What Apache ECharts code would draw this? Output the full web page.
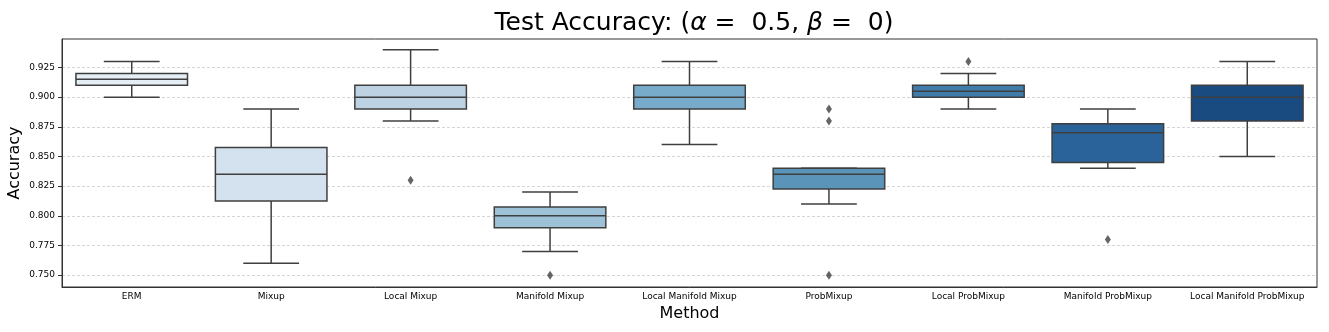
<!DOCTYPE html>
<html>
<head>
<meta charset="utf-8">
<script src="https://cdn.jsdelivr.net/npm/echarts@6/dist/echarts.min.js"></script>
<style>
  html, body { margin: 0; padding: 0; background: #fff; }
  #chart { width: 1329px; height: 332px; }
</style>
</head>
<body>
<div id="chart"></div>
<script>
// methods on the x axis
const methods = ['ERM', 'Mixup', 'Local Mixup', 'Manifold Mixup', 'Local Manifold Mixup',
  'ProbMixup', 'Local ProbMixup', 'Manifold ProbMixup', 'Local Manifold ProbMixup'];

// box stats: [low whisker, Q1, median, Q3, high whisker]
const boxStats = [
  [0.900, 0.910, 0.915, 0.920, 0.930],
  [0.760, 0.8125, 0.835, 0.8575, 0.890],
  [0.880, 0.890, 0.900, 0.910, 0.940],
  [0.770, 0.790, 0.800, 0.8075, 0.820],
  [0.860, 0.890, 0.900, 0.910, 0.930],
  [0.810, 0.8225, 0.835, 0.840, 0.840],
  [0.890, 0.900, 0.905, 0.910, 0.920],
  [0.840, 0.845, 0.870, 0.8775, 0.890],
  [0.850, 0.880, 0.900, 0.910, 0.930]
];

// outliers: [method index, value]
const outliers = [
  [2, 0.830],
  [3, 0.750],
  [5, 0.890], [5, 0.880], [5, 0.750],
  [6, 0.930],
  [7, 0.780]
];

const yTicks = [0.750, 0.775, 0.800, 0.825, 0.850, 0.875, 0.900, 0.925];

// seaborn Blues, desaturated
const boxColors = ['#e6eef6', '#d4e1ee', '#bdd3e4', '#9dc1d6', '#78abc9',
  '#5a94b9', '#407caa', '#2a6399', '#194b81'];

const lineColor = '#3f3f3f';
const font = 'DejaVu Sans';

const boxData = boxStats.map((s, i) => [i].concat(s));

const chart = echarts.init(document.getElementById('chart'));

chart.setOption({
  animation: false,
  title: {
    text: 'Test Accuracy: ({i|α} =  0.5, {i|β} =  0)',
    left: 689, top: 6, textAlign: 'center',
    textStyle: {
      fontFamily: font, fontSize: 25, fontWeight: 'normal', color: '#000',
      rich: { i: { fontFamily: font, fontSize: 25, fontStyle: 'italic', color: '#000' } }
    }
  },
  grid: {
    left: 62, right: 12, top: 39, bottom: 45,
    outerBoundsMode: 'none',
    containLabel: false,
    show: true, borderColor: '#333', borderWidth: 1, backgroundColor: 'transparent'
  },
  xAxis: {
    type: 'category',
    data: methods,
    name: 'Method',
    nameLocation: 'middle',
    nameGap: 19,
    nameTextStyle: { fontFamily: font, fontSize: 16, color: '#000' },
    axisLine: { lineStyle: { color: '#333', width: 1 } },
    axisTick: { alignWithLabel: true, length: 3, lineStyle: { color: '#333' } },
    axisLabel: { interval: 0, fontFamily: font, fontSize: 9, color: '#000', margin: 5 },
    splitLine: { show: false }
  },
  yAxis: {
    type: 'value',
    min: 0.74,
    max: 0.949,
    name: 'Accuracy',
    nameLocation: 'middle',
    nameGap: 39,
    nameMoveOverlap: false,
    nameTextStyle: { fontFamily: font, fontSize: 16, color: '#000' },
    axisLine: { show: true, lineStyle: { color: '#333', width: 1 } },
    axisTick: { show: true, length: 4, customValues: yTicks, lineStyle: { color: '#333' } },
    axisLabel: {
      fontFamily: font, fontSize: 9, color: '#000', margin: 7,
      customValues: yTicks,
      formatter: v => v.toFixed(3)
    },
    splitLine: { show: true, lineStyle: { color: '#cccccc', type: [3, 2], width: 0.8 } }
  },
  series: [
    {
      type: 'custom',
      data: boxData,
      encode: { x: 0, y: [1, 2, 3, 4, 5] },
      renderItem: (params, api) => {
        const i = api.value(0);
        const x = api.coord([i, api.value(3)])[0];
        const y = v => api.coord([i, v])[1];
        const bw = api.size([1, 0])[0] * 0.8;
        const cw = bw / 2;
        const yLo = y(api.value(1)), yQ1 = y(api.value(2)), yMed = y(api.value(3));
        const yQ3 = y(api.value(4)), yHi = y(api.value(5));
        const st = { stroke: lineColor, lineWidth: 1.5, fill: null };
        const line = (x1, y1, x2, y2) => ({ type: 'line', shape: { x1, y1, x2, y2 }, style: st });
        return {
          type: 'group',
          children: [
            line(x, yLo, x, yQ1),
            line(x, yQ3, x, yHi),
            line(x - cw / 2, yLo, x + cw / 2, yLo),
            line(x - cw / 2, yHi, x + cw / 2, yHi),
            {
              type: 'rect',
              shape: { x: x - bw / 2, y: yQ3, width: bw, height: yQ1 - yQ3 },
              style: { fill: boxColors[i], stroke: lineColor, lineWidth: 1.5 }
            },
            line(x - bw / 2, yMed, x + bw / 2, yMed)
          ]
        };
      }
    },
    {
      type: 'scatter',
      data: outliers,
      symbol: 'diamond',
      symbolSize: [6, 9],
      itemStyle: { color: lineColor }
    }
  ]
});
</script>
</body>
</html>
